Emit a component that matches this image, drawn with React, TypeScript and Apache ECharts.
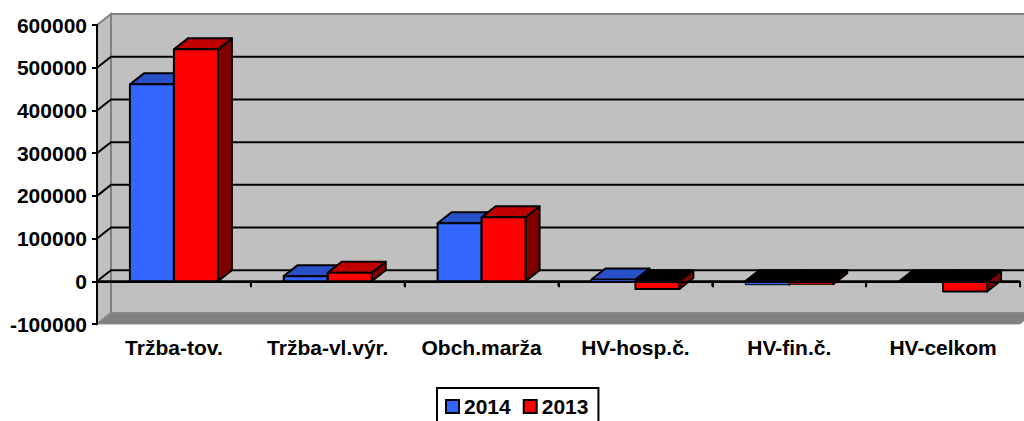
import React, { useEffect, useRef } from "react";
import * as echarts from "echarts";

const categories = ["Tržba-tov.", "Tržba-vl.výr.", "Obch.marža", "HV-hosp.č.", "HV-fin.č.", "HV-celkom"];
const seriesNames = ["2014", "2013"];
const values2014 = [461000, 12000, 136000, 4000, -8000, -2000];
const values2013 = [543000, 20000, 150000, -18000, -7000, -24000];
const yMin = -100000;
const yMax = 600000;
const yStep = 100000;

const FONT = 'Arial, "Liberation Sans", sans-serif';
const FS = 21;
const DX = 14;
const DY = -11;

const palettes = [
  { front: "#3366FF", top: "#2850C8", side: "#1A3380" },
  { front: "#FF0000", top: "#C00000", side: "#800000" },
];

function makeBarRender(seriesIdx: number) {
  return (params: any, api: any) => {
    const idx = api.value(0);
    const v = api.value(1);
    const base = api.coord([idx, 0]);
    const tip = api.coord([idx, v]);
    const band = api.size([1, 0])[0];
    const w = band * 0.286;
    const x0 = seriesIdx === 0 ? base[0] - w : base[0];
    const x1 = x0 + w;
    const yT = Math.min(base[1], tip[1]);
    const yB = Math.max(base[1], tip[1]);
    const pal = palettes[seriesIdx];
    const pos = v >= 0;
    const stroke = { stroke: "#000", lineWidth: 2, lineJoin: "round" };
    const small = yB - yT < 5;
    return {
      type: "group",
      children: [
        {
          type: "polygon",
          shape: { points: [[x1, yT], [x1 + DX, yT + DY], [x1 + DX, yB + DY], [x1, yB]] },
          style: { fill: pal.side, ...stroke },
        },
        {
          type: "polygon",
          shape: { points: [[x0, yT], [x0 + DX, yT + DY], [x1 + DX, yT + DY], [x1, yT]] },
          style: { fill: pos ? pal.top : "#000", ...stroke },
        },
        {
          type: "rect",
          shape: { x: x0, y: yT, width: w, height: Math.max(yB - yT, 0.5) },
          style: { fill: pal.front, ...stroke, lineWidth: small ? 1 : 2 },
        },
      ],
    };
  };
}

function renderWalls(params: any, api: any) {
  const cs = params.coordSys;
  const gx = cs.x, gy = cs.y, gw = cs.width, gh = cs.height;
  const children: any[] = [];
  children.push({
    type: "rect",
    shape: { x: gx + DX, y: gy + DY, width: gw, height: gh },
    style: { fill: "#C0C0C0", stroke: "#808080", lineWidth: 2 },
  });
  children.push({
    type: "polygon",
    shape: { points: [[gx, gy], [gx + DX, gy + DY], [gx + DX, gy + gh + DY], [gx, gy + gh]] },
    style: { fill: "#C0C0C0", stroke: "#808080", lineWidth: 2 },
  });
  children.push({
    type: "polygon",
    shape: { points: [[gx, gy + gh], [gx + DX, gy + gh + DY], [gx + gw + DX, gy + gh + DY], [gx + gw, gy + gh]] },
    style: { fill: "#808080", stroke: "#909090", lineWidth: 1 },
  });
  for (let v = yMin + yStep; v < yMax; v += yStep) {
    const y = api.coord([0, v])[1];
    children.push({
      type: "polyline",
      shape: { points: [[gx, y], [gx + DX, y + DY], [gx + gw + DX, y + DY]] },
      style: { stroke: "#000", lineWidth: 2, fill: null },
    });
  }
  const y0 = api.coord([0, 0])[1];
  children.push({
    type: "line",
    shape: { x1: gx, y1: y0, x2: gx + gw, y2: y0 },
    style: { stroke: "#000", lineWidth: 2 },
  });
  const band = gw / categories.length;
  for (let i = 1; i <= categories.length; i++) {
    const x = gx + band * i;
    children.push({
      type: "line",
      shape: { x1: x, y1: y0, x2: x, y2: y0 + 5 },
      style: { stroke: "#000", lineWidth: 2 },
    });
  }
  return { type: "group", children };
}

export default function App() {
  const ref = useRef<HTMLDivElement>(null);
  useEffect(() => {
    if (!ref.current) return;
    const chart = echarts.init(ref.current, null, { renderer: "svg" });
    chart.setOption({
      animation: false,
      backgroundColor: "#FFFFFF",
      textStyle: { fontFamily: FONT },
      grid: { left: 97, right: 4, top: 25, bottom: 97, containLabel: false },
      legend: {
        data: seriesNames,
        left: 437,
        top: 388,
        padding: [8, 10, 8, 8],
        borderColor: "#000",
        borderWidth: 2,
        itemWidth: 13,
        itemHeight: 13,
        itemGap: 12,
        icon: "rect",
        textStyle: { color: "#000", fontSize: FS, fontWeight: "bold", fontFamily: FONT },
        selectedMode: false,
      },
      xAxis: {
        type: "category",
        data: categories,
        z: 10,
        axisLine: { show: true, lineStyle: { color: "#000", width: 2 } },
        axisTick: { show: true, length: 6, interval: 0, lineStyle: { color: "#000", width: 2 } },
        axisLabel: {
          interval: 0,
          margin: 13,
          color: "#000",
          fontSize: FS,
          fontWeight: "bold",
          fontFamily: FONT,
        },
        splitLine: { show: false },
      },
      yAxis: {
        type: "value",
        min: yMin,
        max: yMax,
        interval: yStep,
        z: 10,
        axisLine: { show: true, lineStyle: { color: "#000", width: 2 } },
        axisTick: { show: true, length: 5, lineStyle: { color: "#000", width: 2 } },
        axisLabel: {
          margin: 10,
          color: "#000",
          fontSize: FS,
          fontWeight: "bold",
          fontFamily: FONT,
          formatter: (v: number) => String(v),
        },
        splitLine: { show: false },
      },
      series: [
        {
          type: "custom",
          name: "walls",
          z: 1,
          clip: false,
          silent: true,
          renderItem: renderWalls,
          encode: { x: 0, y: 1 },
          data: [[0, 0]],
        },
        {
          type: "custom",
          name: seriesNames[0],
          z: 2,
          clip: false,
          renderItem: makeBarRender(0),
          itemStyle: { color: palettes[0].front, borderColor: "#000", borderWidth: 1.5 },
          encode: { x: 0, y: 1 },
          data: values2014.map((v, i) => [i, v]),
        },
        {
          type: "custom",
          name: seriesNames[1],
          z: 3,
          clip: false,
          renderItem: makeBarRender(1),
          itemStyle: { color: palettes[1].front, borderColor: "#000", borderWidth: 1.5 },
          encode: { x: 0, y: 1 },
          data: values2013.map((v, i) => [i, v]),
        },
      ],
    });
    return () => chart.dispose();
  }, []);
  return (
    <div
      ref={ref}
      style={{ position: "fixed", left: 0, top: 0, width: 1024, height: 421 }}
    />
  );
}
